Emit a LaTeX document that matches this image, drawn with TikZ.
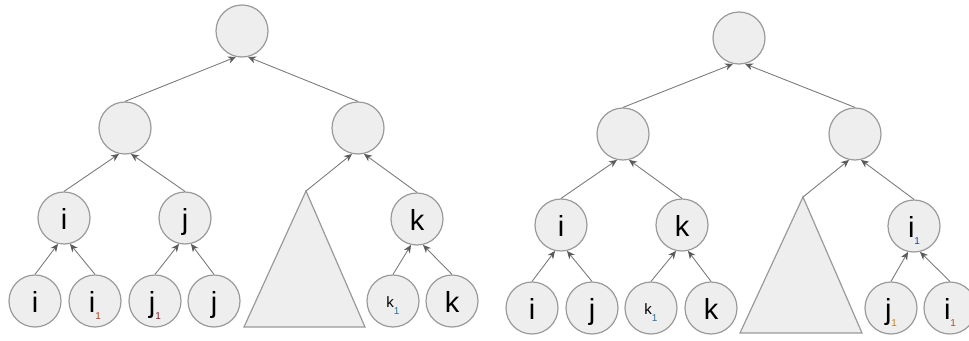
\documentclass[tikz,border=0pt]{standalone}
\usepackage{fontspec}
\setmainfont{Liberation Sans}
\usetikzlibrary{arrows.meta}
\definecolor{nodefill}{HTML}{EEEEEE}
\definecolor{nodeline}{HTML}{9A9A9A}
\definecolor{edgecol}{HTML}{7C7C7C}
\definecolor{tipcol}{HTML}{5A5A5A}
\definecolor{subred}{HTML}{B5401E}
\definecolor{subdred}{HTML}{8B1A2B}
\definecolor{subteal}{HTML}{2A6F97}
\definecolor{subblue}{HTML}{1F3FA0}
\definecolor{suborange}{HTML}{C08030}
\definecolor{subbrown}{HTML}{A0522D}
\newcommand\sbs[2]{\raisebox{-7pt}{\fontsize{10}{10}\selectfont\color{#1}#2}}
\newcommand\smallk[1]{\raisebox{5pt}{\fontsize{15}{15}\selectfont k}\raisebox{-2pt}{\fontsize{10}{10}\selectfont\color{#1}1}}
\begin{document}
\begin{tikzpicture}[x=1pt,y=-1pt,
  tn/.style={circle, draw=nodeline, fill=nodefill, line width=1.2pt, minimum size=52pt, inner sep=0pt,
    font=\fontsize{29}{29}\selectfont, text height=22pt, text depth=0pt},
  edge/.style={draw=edgecol, line width=0.9pt, -{Stealth[length=8pt,width=7pt,color=tipcol]}},
  tri/.style={draw=nodeline, fill=nodefill, line width=1.2pt, line join=miter}]
\useasboundingbox (0,0) rectangle (969,340);
% ---------------- left tree ----------------
\node[tn] (R1) at (242,31) {};
\node[tn] (A1) at (125,128) {};
\node[tn] (B1) at (358,128) {};
\node[tn] (I1) at (64,218) {i};
\node[tn] (J1) at (185,218) {j};
\node[tn] (K1) at (417,219) {k};
\node[tn] (L1a) at (35,301) {i};
\node[tn] (L1b) at (95,301) {i\sbs{subred}{1}};
\node[tn] (L1c) at (155,301) {j\sbs{subdred}{1}};
\node[tn] (L1d) at (214,301) {j};
\node[tn] (L1e) at (393,301) {\smallk{subteal}};
\node[tn] (L1f) at (452,301) {k};
\coordinate (T1) at (306,191);
\draw[tri] (T1) -- (244,327) -- (365,327) -- cycle;
\draw[edge] (A1.north) -- (R1.257);
\draw[edge] (B1.north) -- (R1.283);
\draw[edge] (I1.north) -- (A1.257);
\draw[edge] (J1.north) -- (A1.283);
\draw[edge] (T1) -- (B1.257);
\draw[edge] (K1.north) -- (B1.283);
\draw[edge] (L1a.north) -- (I1.257);
\draw[edge] (L1b.north) -- (I1.283);
\draw[edge] (L1c.north) -- (J1.257);
\draw[edge] (L1d.north) -- (J1.283);
\draw[edge] (L1e.north) -- (K1.257);
\draw[edge] (L1f.north) -- (K1.283);
% ---------------- right tree ----------------
\node[tn] (R2) at (739,38) {};
\node[tn] (A2) at (623,134) {};
\node[tn] (B2) at (855,134) {};
\node[tn] (I2) at (561,225) {i};
\node[tn] (K2) at (682,225) {k};
\node[tn] (M2) at (914,226) {i\sbs{subblue}{1}};
\node[tn] (L2a) at (532,308) {i};
\node[tn] (L2b) at (592,308) {j};
\node[tn] (L2c) at (651,308) {\smallk{subteal}};
\node[tn] (L2d) at (711,308) {k};
\node[tn] (L2e) at (891,308) {j\sbs{suborange}{1}};
\node[tn] (L2f) at (950,308) {i\sbs{subbrown}{1}};
\coordinate (T2) at (803,197);
\draw[tri] (T2) -- (740,333) -- (862,333) -- cycle;
\draw[edge] (A2.north) -- (R2.257);
\draw[edge] (B2.north) -- (R2.283);
\draw[edge] (I2.north) -- (A2.257);
\draw[edge] (K2.north) -- (A2.283);
\draw[edge] (T2) -- (B2.257);
\draw[edge] (M2.north) -- (B2.283);
\draw[edge] (L2a.north) -- (I2.257);
\draw[edge] (L2b.north) -- (I2.283);
\draw[edge] (L2c.north) -- (K2.257);
\draw[edge] (L2d.north) -- (K2.283);
\draw[edge] (L2e.north) -- (M2.257);
\draw[edge] (L2f.north) -- (M2.283);
\end{tikzpicture}
\end{document}
